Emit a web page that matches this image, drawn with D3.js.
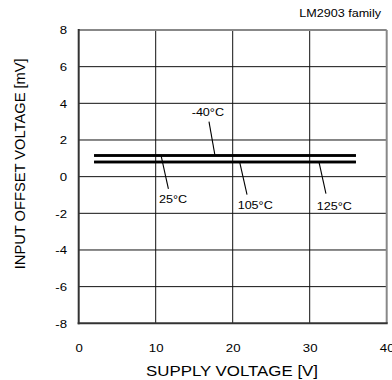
<!DOCTYPE html>
<html><head><meta charset="utf-8">
<script src="https://cdn.jsdelivr.net/npm/d3@7"></script>
<style>
html,body{margin:0;padding:0;background:#fff;}
svg{display:block;font-family:"Liberation Sans",Arial,sans-serif;}
</style></head>
<body><svg id="chart" width="392" height="380"></svg>
<script>
// ---- data ----
const supplyVoltage = [2, 36];
const offsetM40 = [1.15, 1.15];
const offset25 = [1.15, 1.15];
const offset105 = [0.8, 0.8];
const offset125 = [0.8, 0.8];
const seriesNames = ["-40°C", "25°C", "105°C", "125°C"];
const xTicks = [0, 10, 20, 30, 40];
const yTicks = [-8, -6, -4, -2, 0, 2, 4, 6, 8];
const labelAnchorV = [17.7, 10.7, 20.9, 31.2]; // supply voltage where each leader touches its line
const title = "LM2903 family";
const xTitle = "SUPPLY VOLTAGE [V]";
const yTitle = "INPUT OFFSET VOLTAGE [mV]";

const series = [offsetM40, offset25, offset105, offset125].map((vals, i) => ({
  name: seriesNames[i],
  points: supplyVoltage.map((v, j) => ({v, o: vals[j]})),
  anchor: labelAnchorV[i],
  value: vals[0]
}));

// ---- layout ----
const L = 78.7, R = 386.7, T = 30, B = 323.3;
const SX = 1.2; // horizontal stretch of small text
const svg = d3.select("#chart");
const x = d3.scaleLinear().domain([0, 40]).range([L, R]);
const y = d3.scaleLinear().domain([-8, 8]).range([B, T]);

// grid
svg.append("g").selectAll("line").data(xTicks.slice(1, -1)).join("line")
  .attr("x1", d => x(d)).attr("x2", d => x(d)).attr("y1", T).attr("y2", B)
  .attr("stroke", "#111").attr("stroke-width", 1);
svg.append("g").selectAll("line").data(yTicks.slice(1, -1)).join("line")
  .attr("x1", L).attr("x2", R).attr("y1", d => y(d)).attr("y2", d => y(d))
  .attr("stroke", "#111").attr("stroke-width", 1);

// frame
svg.append("line").attr("x1", L).attr("x2", R).attr("y1", T).attr("y2", T).attr("stroke", "#888").attr("stroke-width", 2);
svg.append("line").attr("x1", R).attr("x2", R).attr("y1", T).attr("y2", B).attr("stroke", "#888").attr("stroke-width", 2);
svg.append("line").attr("x1", L).attr("x2", L).attr("y1", T - 1).attr("y2", B + 1).attr("stroke", "#333").attr("stroke-width", 2);
svg.append("line").attr("x1", L - 1).attr("x2", R + 1).attr("y1", B).attr("y2", B).attr("stroke", "#333").attr("stroke-width", 2);

// axes
const xAxis = svg.append("g").attr("transform", `translate(0,${B})`)
  .call(d3.axisBottom(x).tickValues(xTicks).tickSize(0).tickPadding(0).tickFormat(d => String(d)));
xAxis.select(".domain").remove();
xAxis.selectAll("text").attr("y", 0).attr("dy", 0)
  .attr("font-size", 11).attr("fill", "#000").attr("font-family", "Liberation Sans, Arial, sans-serif")
  .attr("transform", `translate(0,${351.7 - B}) scale(${SX},1)`);

const yAxis = svg.append("g").attr("transform", `translate(${L},0)`)
  .call(d3.axisLeft(y).tickValues(yTicks).tickSize(0).tickFormat(d => String(d)));
yAxis.select(".domain").remove();
yAxis.selectAll("text").attr("x", 0).attr("dy", 0).attr("y", 0)
  .attr("font-size", 11).attr("fill", "#000").attr("font-family", "Liberation Sans, Arial, sans-serif")
  .attr("text-anchor", "end")
  .attr("transform", `translate(${67 - L},3.9) scale(${SX},1)`);

// series lines
const line = d3.line().x(d => x(d.v)).y(d => y(d.o));
svg.append("g").selectAll("path").data(series).join("path")
  .attr("d", d => line(d.points)).attr("fill", "none")
  .attr("stroke", "#000").attr("stroke-width", 2.6);

// annotations: leader offsets (px) and label positions relative to anchor
const leaders = [
  {dx: -6, dy: -34, tx: -23.3, ty: -39.6},
  {dx: 7.3, dy: 33.3, tx: -2, ty: 47.3},
  {dx: 7.4, dy: 32.7, tx: -2, ty: 46.7},
  {dx: 7, dy: 31.7, tx: -2.3, ty: 48.4}
];
series.forEach((s, i) => {
  const ax = x(s.anchor), ay = y(s.value), o = leaders[i];
  svg.append("line").attr("x1", ax).attr("y1", ay).attr("x2", ax + o.dx).attr("y2", ay + o.dy)
    .attr("stroke", "#000").attr("stroke-width", 1.1);
  svg.append("text").attr("transform", `translate(${ax + o.tx},${ay + o.ty}) scale(${SX},1)`)
    .attr("font-size", 10.5).attr("fill", "#000").text(s.name);
});

// titles
svg.append("text").attr("transform", `translate(381,17.3) scale(${SX},1)`)
  .attr("text-anchor", "end").attr("font-size", 10.5).attr("fill", "#000").text(title);
svg.append("text").attr("x", 232).attr("y", 375.7).attr("text-anchor", "middle")
  .attr("font-size", 15).attr("fill", "#000")
  .attr("textLength", 172).attr("lengthAdjust", "spacingAndGlyphs").text(xTitle);
svg.append("text").attr("transform", "translate(25.3,163.8) rotate(-90)").attr("text-anchor", "middle")
  .attr("font-size", 14.5).attr("fill", "#000")
  .attr("textLength", 211).attr("lengthAdjust", "spacingAndGlyphs").text(yTitle);
</script></body></html>
